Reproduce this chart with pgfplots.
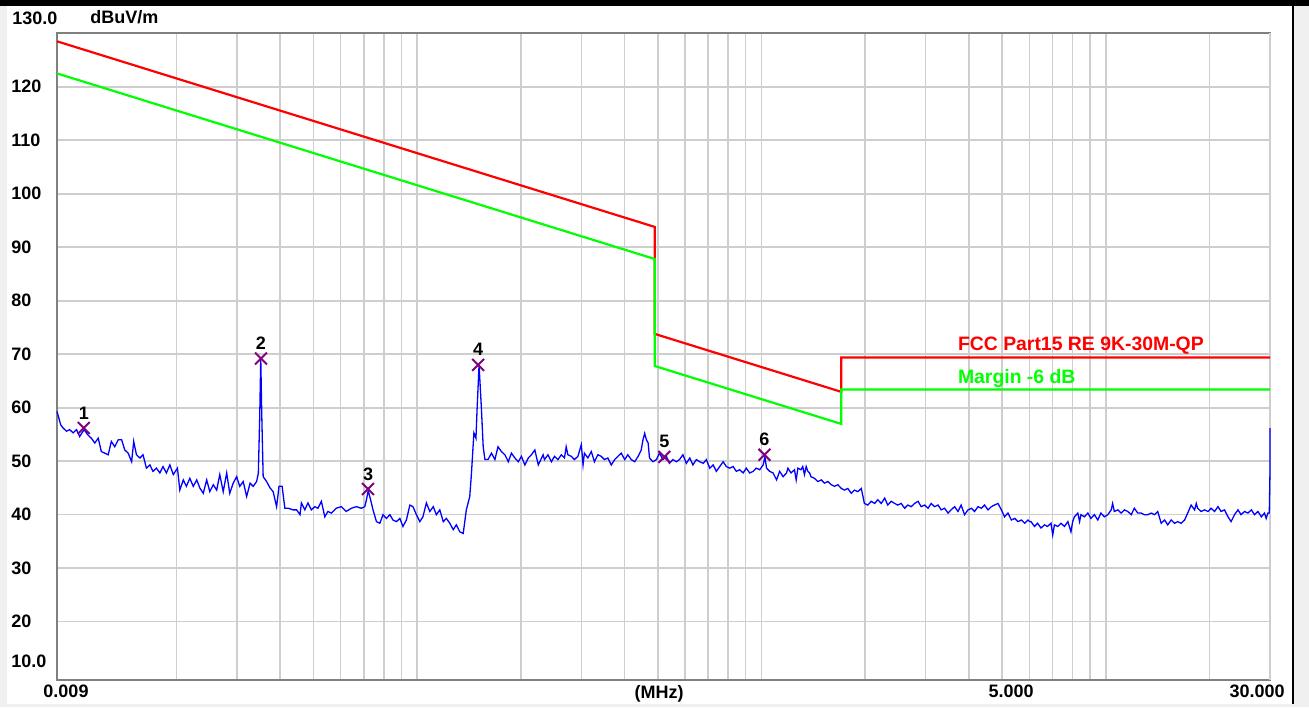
\documentclass[border=0pt]{standalone}
\usepackage{pgfplots}
\pgfplotsset{compat=1.18}
\usepackage{fontspec}
\setmainfont{Liberation Sans}
\definecolor{gridc}{RGB}{206,206,206}
\definecolor{framec}{RGB}{128,128,128}
\definecolor{bgc}{RGB}{240,240,240}
\definecolor{mkc}{RGB}{128,0,128}
\definecolor{lred}{RGB}{255,0,0}
\definecolor{lgreen}{RGB}{0,255,0}
\definecolor{tblue}{RGB}{0,0,255}
\newcommand\lf{\fontsize{9}{10}\selectfont\bfseries}
\newcommand\lfb{\fontsize{9.7}{11}\selectfont\bfseries}
% x values are log10(frequency / MHz)
\begin{document}
\begin{tikzpicture}[x=1pt,y=1pt]
\useasboundingbox (0,0) rectangle (654.5,353.5);
\fill[bgc] (0,0) rectangle (654.5,353.5);
\fill[white] (3.5,1.5) rectangle (646,350.5);
\fill[black] (0,350.5) rectangle (654.5,353.5);
\draw[black,line width=1pt] (646.5,1.5)--(646.5,350.5);
\begin{axis}[
 at={(28.5pt,13.5pt)}, anchor=south west,
 scale only axis, width=606.5pt, height=323.35pt,
 xmin=-2.04576, xmax=1.47712, ymin=9.09, ymax=130,
 clip=false,
 axis line style={framec, line width=1pt},
 tick style={draw=none},
 major tick length=0pt, minor tick length=0pt,
 xtick={-2.04576,0.69897}, xticklabels={0.009,5.000},
 extra x ticks={1.47712}, extra x tick labels={30.000},
 extra x tick style={xticklabel style={anchor=north east, xshift=3pt}},
 minor xtick={-1.69897,-1.52288,-1.39794,-1.30103,-1.22185,-1.15490,-1.09691,-1.04576,-1,
   -0.69897,-0.52288,-0.39794,-0.30103,-0.22185,-0.15490,-0.09691,-0.04576,0,
   0.30103,0.47712,0.60206,0.77815,0.84510,0.90309,0.95424,1,1.30103},
 ytick={20,30,...,120}, yticklabels={20,30,40,50,60,70,80,90,100,110,120},
 grid=both,
 major grid style={gridc, line width=0.8pt},
 minor grid style={gridc, line width=0.8pt},
 xticklabel style={font=\lf, inner sep=0pt, yshift=-2.5pt, xshift=4.5pt},
 yticklabel style={font=\lf, inner sep=0pt, anchor=west, xshift=-23pt},
 xlabel={(MHz)},
 xlabel style={font=\lf, inner sep=0pt, at={(rel axis cs:0.4963,0)}, anchor=north, yshift=-2.5pt},
]
\addplot[lred, line width=1.1pt] coordinates {(-2.04576,128.5) (-0.30980,93.8) (-0.30980,73.8) (0.23172,62.97) (0.23172,69.4) (1.47712,69.4)};
\addplot[lgreen, line width=1.1pt] coordinates {(-2.04576,122.5) (-0.30980,87.8) (-0.30980,67.8) (0.23172,56.97) (0.23172,63.4) (1.47712,63.4)};
\addplot[tblue, line width=0.65pt] coordinates {
(-2.0457,59.3)(-2.035,56.8)(-2.028,56.2)(-2.018,55.6)(-2.009,55.9)(-1.999,55.3)(-1.989,55.9)(-1.980,54.6)(-1.967,55.9)(-1.956,54.9)(-1.946,54.3)(-1.936,53.4)(-1.926,54.3)(-1.917,51.8)(-1.907,51.5)(-1.897,51.2)(-1.888,53.7)(-1.878,52.7)(-1.868,54.0)(-1.858,54.0)(-1.849,52.1)(-1.839,51.5)(-1.829,49.9)(-1.823,53.7)(-1.815,51.2)(-1.805,50.6)(-1.796,51.2)(-1.786,48.7)(-1.776,49.3)(-1.767,48.1)(-1.757,48.7)(-1.747,47.8)(-1.738,49.0)(-1.728,47.8)(-1.718,49.3)(-1.708,47.5)(-1.696,48.7)(-1.689,44.6)(-1.679,46.5)(-1.670,45.3)(-1.660,46.8)(-1.650,45.3)(-1.640,46.5)(-1.631,45.0)(-1.621,44.0)(-1.611,46.5)(-1.602,44.3)(-1.592,45.6)(-1.582,44.6)(-1.573,47.5)(-1.563,44.3)(-1.553,47.8)(-1.544,44.0)(-1.534,45.9)(-1.524,47.1)(-1.515,45.3)(-1.505,46.2)(-1.495,43.4)(-1.485,45.9)(-1.476,45.3)(-1.466,46.2)(-1.461,47.8)(-1.457,58.4)(-1.454,69.2)(-1.451,58.4)(-1.447,47.1)(-1.437,46.2)(-1.427,45.0)(-1.418,44.3)(-1.408,41.5)(-1.401,45.3)(-1.392,45.3)(-1.384,41.2)(-1.374,41.2)(-1.360,40.9)(-1.350,40.9)(-1.340,40.0)
(-1.336,42.2)(-1.326,40.9)(-1.317,42.2)(-1.307,40.9)(-1.297,41.5)(-1.288,41.2)(-1.278,42.5)(-1.268,39.6)(-1.259,40.6)(-1.249,40.3)(-1.235,41.2)(-1.220,41.5)(-1.206,40.6)(-1.191,41.2)(-1.176,41.5)(-1.162,41.2)(-1.152,41.5)(-1.147,42.8)(-1.142,44.5)(-1.135,42.8)(-1.128,40.9)(-1.118,38.7)(-1.108,38.4)(-1.099,40.0)(-1.089,39.3)(-1.079,40.0)(-1.070,39.0)(-1.060,38.7)(-1.050,39.3)(-1.041,37.8)(-1.031,39.0)(-1.021,41.8)(-1.012,41.5)(-1.002,40.0)(-0.992,38.7)(-0.983,39.6)(-0.973,42.2)(-0.963,40.6)(-0.953,41.5)(-0.944,40.0)(-0.934,40.9)(-0.924,38.7)(-0.915,39.3)(-0.905,38.4)(-0.895,37.2)(-0.886,38.1)(-0.876,36.8)(-0.866,36.5)(-0.857,40.9)(-0.847,43.4)(-0.842,47.8)(-0.835,55.3)(-0.829,54.3)(-0.826,59.3)(-0.820,68.0)(-0.813,59.6)(-0.808,52.7)(-0.803,50.3)(-0.794,50.3)(-0.784,51.5)(-0.774,50.3)(-0.765,52.7)(-0.755,51.8)(-0.745,51.2)(-0.735,49.9)(-0.726,51.5)(-0.716,50.6)(-0.706,49.9)(-0.697,50.9)(-0.687,49.3)(-0.677,50.6)(-0.668,51.2)(-0.658,52.1)(-0.648,49.3)(-0.634,51.2)
(-0.630,50.3)(-0.620,51.2)(-0.610,49.9)(-0.601,50.9)(-0.591,50.3)(-0.581,51.2)(-0.572,50.6)(-0.567,52.7)(-0.562,51.2)(-0.552,50.9)(-0.543,50.3)(-0.533,50.9)(-0.523,53.1)(-0.518,49.3)(-0.514,51.5)(-0.504,50.6)(-0.494,51.8)(-0.485,49.9)(-0.475,51.2)(-0.465,50.9)(-0.456,50.3)(-0.446,50.6)(-0.436,49.3)(-0.426,50.3)(-0.417,50.9)(-0.407,51.5)(-0.397,50.3)(-0.388,51.2)(-0.378,50.3)(-0.368,49.9)(-0.358,50.9)(-0.349,52.1)(-0.344,54.0)(-0.339,55.2)(-0.334,54.0)(-0.329,53.4)(-0.325,50.6)(-0.315,49.9)(-0.305,50.3)(-0.296,51.5)(-0.286,50.3)(-0.276,50.9)(-0.267,49.6)(-0.257,50.3)(-0.247,49.9)(-0.238,50.3)(-0.228,51.2)(-0.218,49.6)(-0.208,50.6)(-0.199,49.3)(-0.189,50.3)(-0.179,49.9)(-0.169,49.6)(-0.160,50.3)(-0.150,48.7)(-0.140,49.3)(-0.131,48.1)(-0.121,49.0)(-0.111,49.9)(-0.102,49.0)(-0.092,48.7)(-0.082,49.0)(-0.073,48.1)(-0.063,48.4)(-0.053,47.8)(-0.044,48.7)(-0.034,47.8)(-0.024,48.1)(-0.015,48.7)(-0.005,48.4)(0.005,49.3)(0.010,50.8)(0.015,48.7)(0.024,48.1)(0.034,47.8)(0.044,46.5)(0.053,48.1)(0.063,47.1)(0.073,47.8)
(0.077,48.7)(0.086,47.8)(0.096,48.4)(0.101,46.5)(0.106,48.7)(0.115,48.4)(0.120,49.0)(0.125,47.5)(0.130,49.0)(0.135,48.1)(0.140,47.8)(0.144,47.1)(0.154,46.8)(0.164,46.2)(0.174,46.5)(0.183,45.9)(0.193,46.2)(0.203,45.6)(0.212,45.3)(0.222,45.6)(0.232,44.9)(0.241,44.6)(0.251,44.9)(0.261,44.0)(0.270,44.6)(0.280,44.3)(0.290,44.9)(0.295,43.4)(0.299,42.1)(0.309,41.8)(0.319,42.5)(0.329,42.1)(0.338,42.8)(0.348,42.1)(0.358,43.1)(0.367,41.8)(0.377,42.5)(0.387,42.1)(0.396,41.8)(0.406,42.1)(0.416,41.2)(0.425,41.8)(0.435,41.5)(0.445,42.1)(0.455,42.5)(0.464,41.5)(0.474,41.8)(0.484,41.2)(0.493,42.1)(0.503,41.5)(0.513,41.8)(0.522,40.9)(0.532,41.2)(0.542,40.3)(0.551,40.9)(0.561,41.5)(0.571,40.6)(0.580,41.8)(0.590,40.0)(0.600,40.9)(0.610,41.2)(0.619,40.6)(0.629,41.5)(0.639,41.2)(0.648,41.8)(0.658,40.9)(0.668,41.5)(0.677,41.8)(0.687,42.1)(0.692,41.5)(0.697,40.9)(0.706,39.6)(0.716,40.3)(0.726,39.0)(0.736,39.3)(0.745,38.7)(0.755,39.0)(0.765,38.4)(0.774,39.0)(0.779,38.7)
(0.783,38.7)(0.793,37.8)(0.802,38.4)(0.812,37.5)(0.822,38.1)(0.831,37.8)(0.841,38.4)(0.846,36.2)(0.851,38.1)(0.861,37.8)(0.870,38.4)(0.880,37.8)(0.890,38.7)(0.899,36.8)(0.904,38.7)(0.909,39.6)(0.919,40.3)(0.924,38.7)(0.928,40.0)(0.938,39.6)(0.948,40.3)(0.957,39.3)(0.967,40.0)(0.977,39.0)(0.986,40.3)(0.996,39.6)(1.006,40.0)(1.016,40.9)(1.020,42.1)(1.025,40.6)(1.035,40.9)(1.045,40.3)(1.054,40.9)(1.064,40.6)(1.074,40.0)(1.083,41.2)(1.093,40.3)(1.103,40.3)(1.112,40.0)(1.122,40.0)(1.132,40.3)(1.142,40.0)(1.151,40.6)(1.161,38.4)(1.171,39.0)(1.180,38.1)(1.190,39.0)(1.200,38.4)(1.209,38.7)(1.219,38.4)(1.229,39.0)(1.238,40.3)(1.248,41.8)(1.258,40.9)(1.263,42.1)(1.267,41.2)(1.277,40.6)(1.287,40.9)(1.297,40.6)(1.306,41.2)(1.316,40.6)(1.326,41.5)(1.335,40.6)(1.345,40.9)(1.355,39.6)(1.364,38.7)(1.374,40.0)(1.384,40.9)(1.393,40.0)(1.403,40.6)(1.413,40.3)(1.423,40.9)(1.432,40.0)(1.442,40.6)(1.452,39.6)(1.461,40.3)(1.466,39.3)(1.471,40.3)(1.475,40.3)(1.4771,48.4)(1.4771,56.2)
};
\addplot[only marks, mark=x, mark size=4.2pt, mkc, mark options={line width=1pt},
  nodes near coords, point meta=explicit symbolic,
  nodes near coords style={black, font=\lf, anchor=base, yshift=4.5pt, inner sep=0pt}]
  table[meta=lab] {
x y lab
-1.968 56.2 1
-1.4535 69.2 2
-1.1424 44.8 3
-0.8227 68.0 4
-0.282 50.8 5
0.0087 51.2 6
};
\node[anchor=base west, lred, font=\lfb, inner sep=0pt] at (axis cs:0.5698,70.65) {FCC Part15 RE 9K-30M-QP};
\node[anchor=base west, lgreen, font=\lfb, inner sep=0pt] at (axis cs:0.5698,64.6) {Margin -6 dB};
\node[anchor=west, font=\lf, inner sep=0pt] at ([xshift=-22.5pt,yshift=7.5pt]axis cs:-2.04576,130) {130.0};
\node[anchor=west, font=\lf, inner sep=0pt] at ([xshift=16.5pt,yshift=8pt]axis cs:-2.04576,130) {dBuV/m};
\node[anchor=west, font=\lf, inner sep=0pt] at ([xshift=-23pt,yshift=7pt]axis cs:-2.04576,10) {10.0};
\end{axis}
\end{tikzpicture}
\end{document}
